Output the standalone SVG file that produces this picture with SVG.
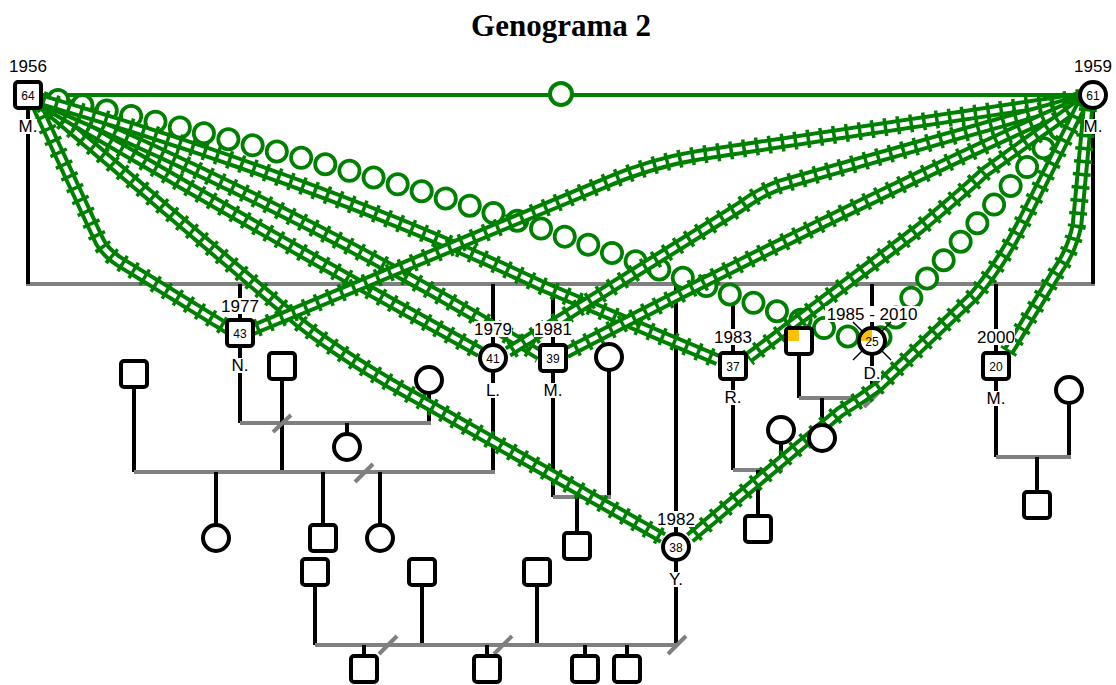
<svg xmlns="http://www.w3.org/2000/svg" width="1116" height="685" viewBox="0 0 1116 685">
<style>
.bk{stroke:#000;stroke-width:4;fill:none}
.gy{stroke:#808080;stroke-width:4;fill:none}
.sq{fill:#fff;stroke:#000;stroke-width:4}
.ci{fill:#fff;stroke:#000;stroke-width:4}
.rt{fill:none;stroke:#008000;stroke-width:18;stroke-dasharray:3.5 9.5}
.rr{fill:none;stroke:#008000;stroke-width:12.5}
.rw{fill:none;stroke:#fff;stroke-width:4.5;stroke-dasharray:9.5 3.5;stroke-dashoffset:9.5}
.cg{fill:none;stroke:#008000;stroke-width:24;stroke-linecap:round;stroke-dasharray:0 25}
.cw{fill:none;stroke:#fff;stroke-width:16.5;stroke-linecap:round;stroke-dasharray:0 25}
.lb{font-family:"Liberation Sans",Arial,sans-serif;font-size:17px;text-anchor:middle;fill:#000}
.nm{font-family:"Liberation Sans",Arial,sans-serif;font-size:12px;text-anchor:middle;fill:#000}
.bg{fill:#fff}
.title{font-family:"Liberation Serif","Times New Roman",serif;font-size:31px;font-weight:bold;text-anchor:middle}
</style>
<defs>
<path id="g1" d="M36,104 L98,238 Q104,252 120,262 L230,330"/>
<path id="g2" d="M42,104 L300,323 Q350,362 420,400 L663,538"/>
<path id="g3" d="M42,102 Q250,225 480,352"/>
<path id="g4" d="M42,100 Q330,225 540,355"/>
<path id="g5" d="M42,100 Q330,185 540,285 L718,360"/>
<path id="r1" d="M1080,98 L700,155 Q650,163 600,185 L252,330"/>
<path id="r2" d="M1080,100 L780,185 Q760,192 740,207 L508,352"/>
<path id="r3" d="M1080,102 Q860,200 566,353"/>
<path id="r4" d="M1080,104 L985,172 Q960,195 920,228 L748,358"/>
<path id="r5" d="M1082,104 L1022,223 Q1000,265 975,295 L880,385 Q860,400 840,412 L690,538"/>
<path id="r6" d="M1088,108 L1077,225 Q1072,250 1058,270 L1008,352"/>
<path id="c1" d="M58,100 C200,130 400,180 560,235 S800,320 858,340"/>
<path id="c2" d="M1076,110 Q1000,200 930,275 Q905,305 880,338"/>
</defs>
<rect width="1116" height="685" fill="#fff"/>
<text class="title" x="561" y="36">Genograma 2</text>

<g id="family-lines">
<line class="gy" x1="26" y1="284" x2="1095" y2="284"/>
<line class="bk" x1="28" y1="108" x2="28" y2="284"/>
<line class="bk" x1="1093" y1="108" x2="1093" y2="284"/>
<line class="bk" x1="240" y1="284" x2="240" y2="320"/>
<line class="bk" x1="493" y1="284" x2="493" y2="345"/>
<line class="bk" x1="553" y1="284" x2="553" y2="345"/>
<line class="bk" x1="676" y1="284" x2="676" y2="534"/>
<line class="bk" x1="733" y1="284" x2="733" y2="353"/>
<line class="bk" x1="872" y1="284" x2="872" y2="328"/>
<line class="bk" x1="996" y1="284" x2="996" y2="353"/>
<line class="bk" x1="240" y1="346" x2="240" y2="423"/>
<line class="bk" x1="429" y1="393" x2="429" y2="423"/>
<line class="gy" x1="240" y1="423" x2="431" y2="423"/>
<line class="bk" x1="347" y1="423" x2="347" y2="434"/>
<line class="bk" x1="134" y1="387" x2="134" y2="472"/>
<line class="bk" x1="493" y1="371" x2="493" y2="472"/>
<line class="bk" x1="282" y1="379" x2="282" y2="472"/>
<line class="gy" x1="134" y1="472" x2="495" y2="472"/>
<line class="bk" x1="216" y1="472" x2="216" y2="525"/>
<line class="bk" x1="323" y1="472" x2="323" y2="525"/>
<line class="bk" x1="380" y1="472" x2="380" y2="525"/>
<line class="gy" x1="273" y1="432" x2="291" y2="415"/>
<line class="gy" x1="355" y1="482" x2="373" y2="464"/>
<line class="bk" x1="553" y1="371" x2="553" y2="497"/>
<line class="bk" x1="609" y1="370" x2="609" y2="497"/>
<line class="gy" x1="553" y1="497" x2="611" y2="497"/>
<line class="bk" x1="577" y1="497" x2="577" y2="533"/>
<line class="bk" x1="676" y1="560" x2="676" y2="645"/>
<line class="bk" x1="315" y1="585" x2="315" y2="645"/>
<line class="bk" x1="422" y1="585" x2="422" y2="645"/>
<line class="bk" x1="537" y1="585" x2="537" y2="645"/>
<line class="gy" x1="315" y1="645" x2="678" y2="645"/>
<line class="bk" x1="364" y1="645" x2="364" y2="656"/>
<line class="bk" x1="487" y1="645" x2="487" y2="656"/>
<line class="bk" x1="585" y1="645" x2="585" y2="656"/>
<line class="bk" x1="627" y1="645" x2="627" y2="656"/>
<line class="gy" x1="379" y1="654" x2="397" y2="636"/>
<line class="gy" x1="494" y1="654" x2="512" y2="636"/>
<line class="gy" x1="668" y1="654" x2="686" y2="636"/>
<line class="bk" x1="733" y1="379" x2="733" y2="470"/>
<line class="bk" x1="781" y1="443" x2="781" y2="470"/>
<line class="gy" x1="733" y1="470" x2="783" y2="470"/>
<line class="bk" x1="758" y1="470" x2="758" y2="516"/>
<line class="bk" x1="799" y1="354" x2="799" y2="398"/>
<line class="bk" x1="872" y1="354" x2="872" y2="398"/>
<line class="gy" x1="799" y1="398" x2="874" y2="398"/>
<line class="bk" x1="822" y1="398" x2="822" y2="425"/>
<line class="gy" x1="864" y1="407" x2="881" y2="390"/>
<line class="bk" x1="996" y1="379" x2="996" y2="457"/>
<line class="bk" x1="1069" y1="403" x2="1069" y2="457"/>
<line class="gy" x1="996" y1="457" x2="1071" y2="457"/>
<line class="bk" x1="1037" y1="457" x2="1037" y2="492"/>
</g>

<g id="connectors">
<line x1="40" y1="95" x2="1080" y2="95" stroke="#008000" stroke-width="4"/>
<circle cx="561" cy="94" r="11" fill="#fff" stroke="#008000" stroke-width="4"/>
<g id="rel-c1"><use href="#c1" class="cg"/><use href="#c1" class="cw"/></g>
<g id="rel-c2"><use href="#c2" class="cg"/><use href="#c2" class="cw"/></g>
<g id="rel-g1"><use href="#g1" class="rt"/><use href="#g1" class="rr"/><use href="#g1" class="rw"/></g>
<g id="rel-g2"><use href="#g2" class="rt"/><use href="#g2" class="rr"/><use href="#g2" class="rw"/></g>
<g id="rel-g3"><use href="#g3" class="rt"/><use href="#g3" class="rr"/><use href="#g3" class="rw"/></g>
<g id="rel-g4"><use href="#g4" class="rt"/><use href="#g4" class="rr"/><use href="#g4" class="rw"/></g>
<g id="rel-g5"><use href="#g5" class="rt"/><use href="#g5" class="rr"/><use href="#g5" class="rw"/></g>
<g id="rel-r1"><use href="#r1" class="rt"/><use href="#r1" class="rr"/><use href="#r1" class="rw"/></g>
<g id="rel-r2"><use href="#r2" class="rt"/><use href="#r2" class="rr"/><use href="#r2" class="rw"/></g>
<g id="rel-r3"><use href="#r3" class="rt"/><use href="#r3" class="rr"/><use href="#r3" class="rw"/></g>
<g id="rel-r4"><use href="#r4" class="rt"/><use href="#r4" class="rr"/><use href="#r4" class="rw"/></g>
<g id="rel-r5"><use href="#r5" class="rt"/><use href="#r5" class="rr"/><use href="#r5" class="rw"/></g>
<g id="rel-r6"><use href="#r6" class="rt"/><use href="#r6" class="rr"/><use href="#r6" class="rw"/></g>
</g>

<g id="node-father">
<rect class="bg" x="9" y="58" width="38" height="16"/>
<text class="lb" x="28" y="72">1956</text>
<rect class="sq" x="15" y="82" width="26" height="26" rx="3"/>
<text class="nm" x="28" y="99.5">64</text>
<rect class="bg" x="19" y="119" width="18" height="15"/>
<text class="lb" x="28" y="132">M.</text>
</g>
<g id="node-mother">
<rect class="bg" x="1074" y="58" width="38" height="16"/>
<text class="lb" x="1093" y="72">1959</text>
<circle class="ci" cx="1093" cy="95" r="13"/>
<text class="nm" x="1093" y="99.5">61</text>
<rect class="bg" x="1084" y="119" width="18" height="15"/>
<text class="lb" x="1093" y="132">M.</text>
</g>
<g id="node-n">
<rect class="bg" x="221" y="298" width="38" height="16"/>
<text class="lb" x="240" y="312">1977</text>
<rect class="sq" x="227" y="320" width="26" height="26" rx="3"/>
<text class="nm" x="240" y="337.5">43</text>
<rect class="bg" x="232" y="358" width="16" height="15"/>
<text class="lb" x="240" y="371">N.</text>
</g>
<g id="node-l">
<rect class="bg" x="474" y="321" width="38" height="16"/>
<text class="lb" x="493" y="335">1979</text>
<circle class="ci" cx="493" cy="358" r="13"/>
<text class="nm" x="493" y="362.5">41</text>
<rect class="bg" x="486" y="383" width="14" height="15"/>
<text class="lb" x="493" y="396">L.</text>
</g>
<g id="node-m39">
<rect class="bg" x="534" y="321" width="38" height="16"/>
<text class="lb" x="553" y="335">1981</text>
<rect class="sq" x="540" y="345" width="26" height="26" rx="3"/>
<text class="nm" x="553" y="362.5">39</text>
<rect class="bg" x="544" y="383" width="18" height="15"/>
<text class="lb" x="553" y="396">M.</text>
</g>
<g id="node-m39-partner"><circle class="ci" cx="609" cy="357" r="13"/></g>
<g id="node-m39-child"><rect class="sq" x="564" y="533" width="26" height="26" rx="3"/></g>
<g id="node-y">
<rect class="bg" x="657" y="511" width="38" height="16"/>
<text class="lb" x="676" y="525">1982</text>
<circle class="ci" cx="676" cy="547" r="13"/>
<text class="nm" x="676" y="551.5">38</text>
<rect class="bg" x="668" y="572" width="16" height="15"/>
<text class="lb" x="676" y="585">Y.</text>
</g>
<g id="node-r">
<rect class="bg" x="714" y="329" width="38" height="16"/>
<text class="lb" x="733" y="343">1983</text>
<rect class="sq" x="720" y="353" width="26" height="26" rx="3"/>
<text class="nm" x="733" y="370.5">37</text>
<rect class="bg" x="725" y="390" width="16" height="15"/>
<text class="lb" x="733" y="403">R.</text>
</g>
<g id="node-d-partner">
<rect class="sq" x="786" y="328" width="26" height="26" rx="3"/>
<rect x="788" y="330" width="11" height="11" fill="#ffc000"/>
</g>
<g id="node-d">
<rect class="bg" x="825" y="306" width="94" height="16"/>
<text class="lb" x="872" y="320">1985 - 2010</text>
<line x1="853" y1="322" x2="891" y2="360" stroke="#000" stroke-width="1.5"/>
<line x1="891" y1="322" x2="853" y2="360" stroke="#000" stroke-width="1.5"/>
<circle class="ci" cx="872" cy="341" r="13"/>
<path d="M872,341 L861,341 A11,11 0 0 1 872,330 Z" fill="#ffc000"/>
<text class="nm" x="872" y="345.5">25</text>
<rect class="bg" x="864" y="366" width="17" height="15"/>
<text class="lb" x="872" y="379">D.</text>
</g>
<g id="node-d-child"><circle class="ci" cx="822" cy="438" r="13"/></g>
<g id="node-m20">
<rect class="bg" x="977" y="329" width="38" height="16"/>
<text class="lb" x="996" y="343">2000</text>
<rect class="sq" x="983" y="353" width="26" height="26" rx="3"/>
<text class="nm" x="996" y="370.5">20</text>
<rect class="bg" x="987" y="391" width="18" height="15"/>
<text class="lb" x="996" y="404">M.</text>
</g>
<g id="node-m20-partner"><circle class="ci" cx="1069" cy="390" r="13"/></g>
<g id="node-m20-child"><rect class="sq" x="1024" y="492" width="26" height="26" rx="3"/></g>
<g id="node-r-partner"><circle class="ci" cx="781" cy="430" r="13"/></g>
<g id="node-r-child"><rect class="sq" x="745" y="516" width="26" height="26" rx="3"/></g>
<g id="node-n-partner"><circle class="ci" cx="429" cy="380" r="13"/></g>
<g id="node-n-child"><circle class="ci" cx="347" cy="447" r="13"/></g>
<g id="node-l-partner"><rect class="sq" x="121" y="361" width="26" height="26" rx="3"/></g>
<g id="node-l-son"><rect class="sq" x="269" y="353" width="26" height="26" rx="3"/></g>
<g id="node-l-child1"><circle class="ci" cx="216" cy="538" r="13"/></g>
<g id="node-l-child2"><rect class="sq" x="310" y="525" width="26" height="26" rx="3"/></g>
<g id="node-l-child3"><circle class="ci" cx="380" cy="538" r="13"/></g>
<g id="node-y-partner1"><rect class="sq" x="302" y="559" width="26" height="26" rx="3"/></g>
<g id="node-y-partner2"><rect class="sq" x="409" y="559" width="26" height="26" rx="3"/></g>
<g id="node-y-partner3"><rect class="sq" x="524" y="559" width="26" height="26" rx="3"/></g>
<g id="node-y-child1"><rect class="sq" x="351" y="656" width="26" height="26" rx="3"/></g>
<g id="node-y-child2"><rect class="sq" x="474" y="656" width="26" height="26" rx="3"/></g>
<g id="node-y-child3"><rect class="sq" x="572" y="656" width="26" height="26" rx="3"/></g>
<g id="node-y-child4"><rect class="sq" x="614" y="656" width="26" height="26" rx="3"/></g>
</svg>
